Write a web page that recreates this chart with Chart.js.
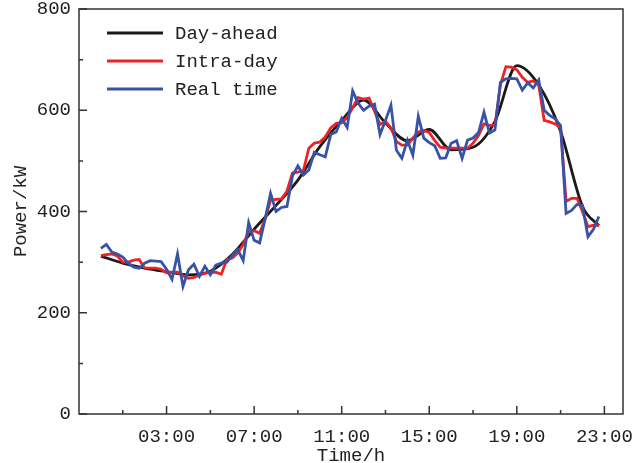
<!DOCTYPE html>
<html>
<head>
<meta charset="utf-8">
<script src="https://cdn.jsdelivr.net/npm/chart.js@4.4.0/dist/chart.umd.min.js"></script>
<style>
html, body { margin: 0; padding: 0; background: #fff; }
</style>
</head>
<body>
<canvas id="myChart" width="633" height="463"></canvas>
<script>
// axis ticks
var tickHours = [3, 7, 11, 15, 19, 23];
var tickLabels = ["03:00", "07:00", "11:00", "15:00", "19:00", "23:00"];
var minorHours = [1, 5, 9, 13, 17, 21];
var yMajor = [0, 200, 400, 600, 800];
var yMinor = [100, 300, 500, 700];

// day-ahead forecast, hourly
var dayAheadHours = [0, 1, 2, 3, 4, 5, 6, 7, 8, 9, 10, 11, 12, 13, 14, 15, 16, 17, 18, 19, 20, 21, 22, 22.75];
var dayAhead = [312, 298, 288, 281, 275, 282, 315, 365, 412, 462, 528, 580, 620, 575, 540, 562,
                522, 527, 578, 688, 650, 558, 410, 372];

// intra-day and real time, every 15 min
var quarterHours = [];
for (var i = 0; i < 92; i++) quarterHours.push(i * 0.25);

var intraDay = [313, 315, 316, 312, 300, 300, 304, 305, 288, 288, 288, 286, 279, 280, 280, 273,
                268, 270, 274, 278, 280, 280, 276, 305, 308, 318, 335, 360, 362, 357, 385, 422,
                424, 425, 440, 476, 478, 481, 525, 535, 537, 547, 565, 574, 575, 586, 605, 625,
                622, 624, 598, 572, 578, 565, 538, 531, 531, 545, 557, 560, 556, 540, 527, 525,
                525, 525, 525, 525, 535, 550, 573, 570, 570, 650, 686, 685, 680, 665, 655, 658,
                650, 580, 577, 573, 565, 420, 426, 426, 400, 370, 373, 372];

var realTime = [327, 335, 320, 316, 310, 298, 290, 288, 298, 303, 302, 301, 286, 266, 316, 252,
                285, 296, 272, 292, 275, 294, 298, 300, 313, 325, 303, 378, 343, 338, 385, 436,
                400, 408, 410, 470, 490, 472, 482, 517, 512, 508, 552, 557, 584, 566, 638, 614,
                600, 608, 612, 552, 580, 610, 521, 505, 541, 511, 588, 545, 536, 530, 505, 506,
                535, 540, 505, 541, 545, 556, 596, 555, 561, 655, 662, 663, 662, 640, 654, 644,
                660, 600, 590, 583, 570, 396, 402, 414, 412, 350, 365, 390];

function toPoints(xs, ys) {
    return ys.map(function (v, k) { return { x: xs[k], y: v }; });
}

var fontFamily = "'Liberation Mono', monospace";
var textColor = "#222";

var framePlugin = {
    id: 'frame',
    afterDatasetsDraw: function (chart) {
        var ctx = chart.ctx;
        var a = chart.chartArea;
        var xs = chart.scales.x, ys = chart.scales.y;
        ctx.save();
        ctx.strokeStyle = "#333";
        ctx.lineWidth = 1.5;
        ctx.strokeRect(a.left, a.top, a.right - a.left, a.bottom - a.top);
        ctx.beginPath();
        tickHours.forEach(function (h) {
            var px = xs.getPixelForValue(h);
            ctx.moveTo(px, a.bottom); ctx.lineTo(px, a.bottom - 8);
        });
        minorHours.forEach(function (h) {
            var px = xs.getPixelForValue(h);
            ctx.moveTo(px, a.bottom); ctx.lineTo(px, a.bottom - 4);
        });
        yMajor.forEach(function (v) {
            var py = ys.getPixelForValue(v);
            ctx.moveTo(a.left, py); ctx.lineTo(a.left + 8, py);
        });
        yMinor.forEach(function (v) {
            var py = ys.getPixelForValue(v);
            ctx.moveTo(a.left, py); ctx.lineTo(a.left + 4, py);
        });
        ctx.stroke();

        // legend, top left inside the plot
        ctx.font = "19px " + fontFamily;
        ctx.textBaseline = "middle";
        ctx.fillStyle = textColor;
        chart.data.datasets.forEach(function (ds, k) {
            var y = a.top + 24 + k * 28;
            ctx.beginPath();
            ctx.strokeStyle = ds.borderColor;
            ctx.lineWidth = 3;
            ctx.moveTo(a.left + 28, y);
            ctx.lineTo(a.left + 84, y);
            ctx.stroke();
            ctx.fillText(ds.label, a.left + 96, y + 1);
        });
        ctx.restore();
    }
};

var chart = new Chart(document.getElementById("myChart"), {
    type: 'line',
    data: {
        datasets: [{
            label: "Day-ahead",
            data: toPoints(dayAheadHours, dayAhead),
            borderColor: "#1a1a1a",
            borderWidth: 2.8,
            cubicInterpolationMode: 'monotone',
            pointRadius: 0,
            order: 3
        }, {
            label: "Intra-day",
            data: toPoints(quarterHours, intraDay),
            borderColor: "#ee2226",
            borderWidth: 2.8,
            tension: 0,
            pointRadius: 0,
            order: 2
        }, {
            label: "Real time",
            data: toPoints(quarterHours, realTime),
            borderColor: "#3753a6",
            borderWidth: 2.8,
            tension: 0,
            pointRadius: 0,
            order: 1
        }]
    },
    options: {
        responsive: false,
        animation: false,
        devicePixelRatio: 1,
        layout: { padding: { left: 0, right: 10, top: 9, bottom: 0 } },
        plugins: {
            legend: { display: false },
            tooltip: { enabled: false }
        },
        scales: {
            x: {
                type: 'linear',
                min: -1,
                max: 23.85,
                afterBuildTicks: function (scale) {
                    scale.ticks = tickHours.map(function (h) { return { value: h }; });
                },
                afterFit: function (scale) {
                    scale.height = 49;
                    scale.paddingLeft = 0;
                    scale.paddingRight = 0;
                },
                ticks: {
                    autoSkip: false,
                    maxRotation: 0,
                    padding: 12,
                    color: textColor,
                    font: { family: fontFamily, size: 19 },
                    callback: function (v) { return tickLabels[tickHours.indexOf(v)]; }
                },
                grid: { display: false, drawTicks: false },
                border: { display: false },
                title: {
                    display: true,
                    text: "Time/h",
                    color: textColor,
                    font: { family: fontFamily, size: 19 },
                    padding: { top: 0, bottom: -4 }
                }
            },
            y: {
                min: 0,
                max: 800,
                afterBuildTicks: function (scale) {
                    scale.ticks = yMajor.map(function (v) { return { value: v }; });
                },
                afterFit: function (scale) {
                    scale.width = 79;
                    scale.paddingTop = 0;
                    scale.paddingBottom = 0;
                },
                ticks: {
                    padding: 8,
                    color: textColor,
                    font: { family: fontFamily, size: 19 }
                },
                grid: { display: false, drawTicks: false },
                border: { display: false },
                title: {
                    display: true,
                    text: "Power/kW",
                    color: textColor,
                    font: { family: fontFamily, size: 19 },
                    padding: { top: 10, bottom: 0 }
                }
            }
        }
    },
    plugins: [framePlugin]
});
</script>
</body>
</html>
